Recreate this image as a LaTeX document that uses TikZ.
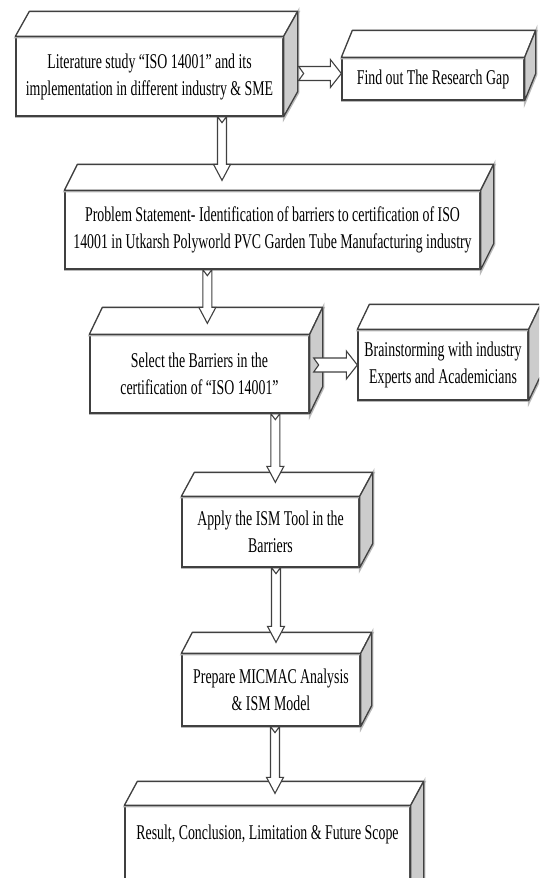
\documentclass[tikz,border=0pt]{standalone}
\usepackage{fontspec}
\setmainfont{Liberation Serif}[FakeStretch=0.66]
\usetikzlibrary{calc}
\tikzset{
  edge/.style={draw=black!75, line width=1.3pt,
    preaction={draw=gray!55, line width=2.6pt, transform canvas={xshift=0.5pt,yshift=-0.8pt}}},
  front/.style={edge, fill=white, inner sep=0pt, align=center,
    font=\fontsize{21}{27}\selectfont},
  topface/.style={edge, fill=white, line join=round},
  sideface/.style={edge, fill=gray!40, line join=round},
  blockarrow/.style={draw=black!75, line width=1.1pt, fill=white, line join=miter},
}
% cuboid faces drawn from a named front node
\newcommand\cubefaces[3]{% node, dx, dy(up)
  \draw[topface] (#1.north west) -- ++(#2,-#3) -- ($(#1.north east)+(#2,-#3)$) -- (#1.north east) -- cycle;
  \draw[sideface] (#1.north east) -- ($(#1.north east)+(#2,-#3)$) -- ($(#1.south east)+(#2,-#3)$) -- (#1.south east) -- cycle;
}
\newcommand\harrow[2]{% start, tip (same y)
  \draw[blockarrow] ($(#1)+(0,-7)$) -- ($(#2)+(-11,-7)$) -- ($(#2)+(-11,-14)$) -- (#2)
    -- ($(#2)+(-11,14)$) -- ($(#2)+(-11,7)$) -- ($(#1)+(0,7)$) -- ($(#1)+(5,0)$) -- cycle;}
\newcommand\varrow[2]{% start, tip (same x)
  \draw[blockarrow] ($(#1)+(-4.5,0)$) -- ($(#2)+(-4.5,-16)$) -- ($(#2)+(-8.5,-16)$) -- (#2)
    -- ($(#2)+(8.5,-16)$) -- ($(#2)+(4.5,-16)$) -- ($(#1)+(4.5,0)$) -- ($(#1)+(0,6)$) -- cycle;}
\begin{document}
\begin{tikzpicture}[x=1pt,y=-1pt]
\useasboundingbox (0,0) rectangle (539,878);
\clip (0,0) rectangle (539,878);
\fill[white] (0,0) rectangle (539,878);

% front faces
\node[front, minimum width=267pt, minimum height=79pt] (b1) at (149.5,76.5)
  {Literature study ``ISO 14001'' and its\\implementation in different industry \& SME};
\node[front, minimum width=182pt, minimum height=42pt] (b2) at (433,79)
  {Find out The Research Gap};
\node[front, minimum width=415pt, minimum height=78pt] (b3) at (272.5,230)
  {Problem Statement- Identification of barriers to certification of ISO\\14001 in Utkarsh Polyworld PVC Garden Tube Manufacturing industry};
\node[front, minimum width=219pt, minimum height=78pt] (b4) at (199.5,374)
  {Select the Barriers in the\\certification of ``ISO 14001''};
\node[front, minimum width=170pt, minimum height=70pt] (b5) at (443,365)
  {Brainstorming with industry\\Experts and Academicians};
\node[front, minimum width=177pt, minimum height=70pt] (b6) at (270.5,532)
  {Apply the ISM Tool in the\\Barriers};
\node[front, minimum width=178pt, minimum height=72pt] (b7) at (271,690)
  {Prepare MICMAC Analysis\\\& ISM Model};
\node[front, minimum width=285pt, minimum height=100pt] (b8) at (267.5,856)
  {};
\node[font=\fontsize{21}{27}\selectfont] (t8) at (267.5,834) {Result, Conclusion, Limitation \& Future Scope};

\cubefaces{b1}{14}{25}
\cubefaces{b2}{11}{27}
\cubefaces{b3}{13}{26}
\cubefaces{b4}{13}{27}
\cubefaces{b5}{12}{25}
\cubefaces{b6}{13}{24}
\cubefaces{b7}{11}{21}
\cubefaces{b8}{13}{24}

% connectors
\coordinate (a12s) at ($(b1.east)+(15,-3)$);
\coordinate (a12e) at (b2.west |- a12s);
\harrow{a12s}{a12e}

\coordinate (a13s) at ($(b1.south)+(72.5,0)$);
\coordinate (a13e) at ($(a13s |- b3.north)+(0,-10)$);
\varrow{a13s}{a13e}

\coordinate (a34s) at ($(b3.south west)+(143,0)$);
\coordinate (a34e) at ($(a34s |- b4.north)+(0,-11)$);
\varrow{a34s}{a34e}

\coordinate (a45s) at ($(b4.east)+(4,-9)$);
\coordinate (a45e) at (b5.west |- a45s);
\harrow{a45s}{a45e}

\coordinate (a46s) at ($(b4.south west)+(186,0)$);
\coordinate (a46e) at ($(a46s |- b6.north)+(0,-14)$);
\varrow{a46s}{a46e}

\coordinate (a67s) at ($(b6.south)+(5.5,0)$);
\coordinate (a67e) at ($(a67s |- b7.north)+(0,-11)$);
\varrow{a67s}{a67e}

\coordinate (a78s) at ($(b7.south)+(4,0)$);
\coordinate (a78e) at ($(a78s |- b8.north)+(0,-12)$);
\varrow{a78s}{a78e}
\end{tikzpicture}
\end{document}
